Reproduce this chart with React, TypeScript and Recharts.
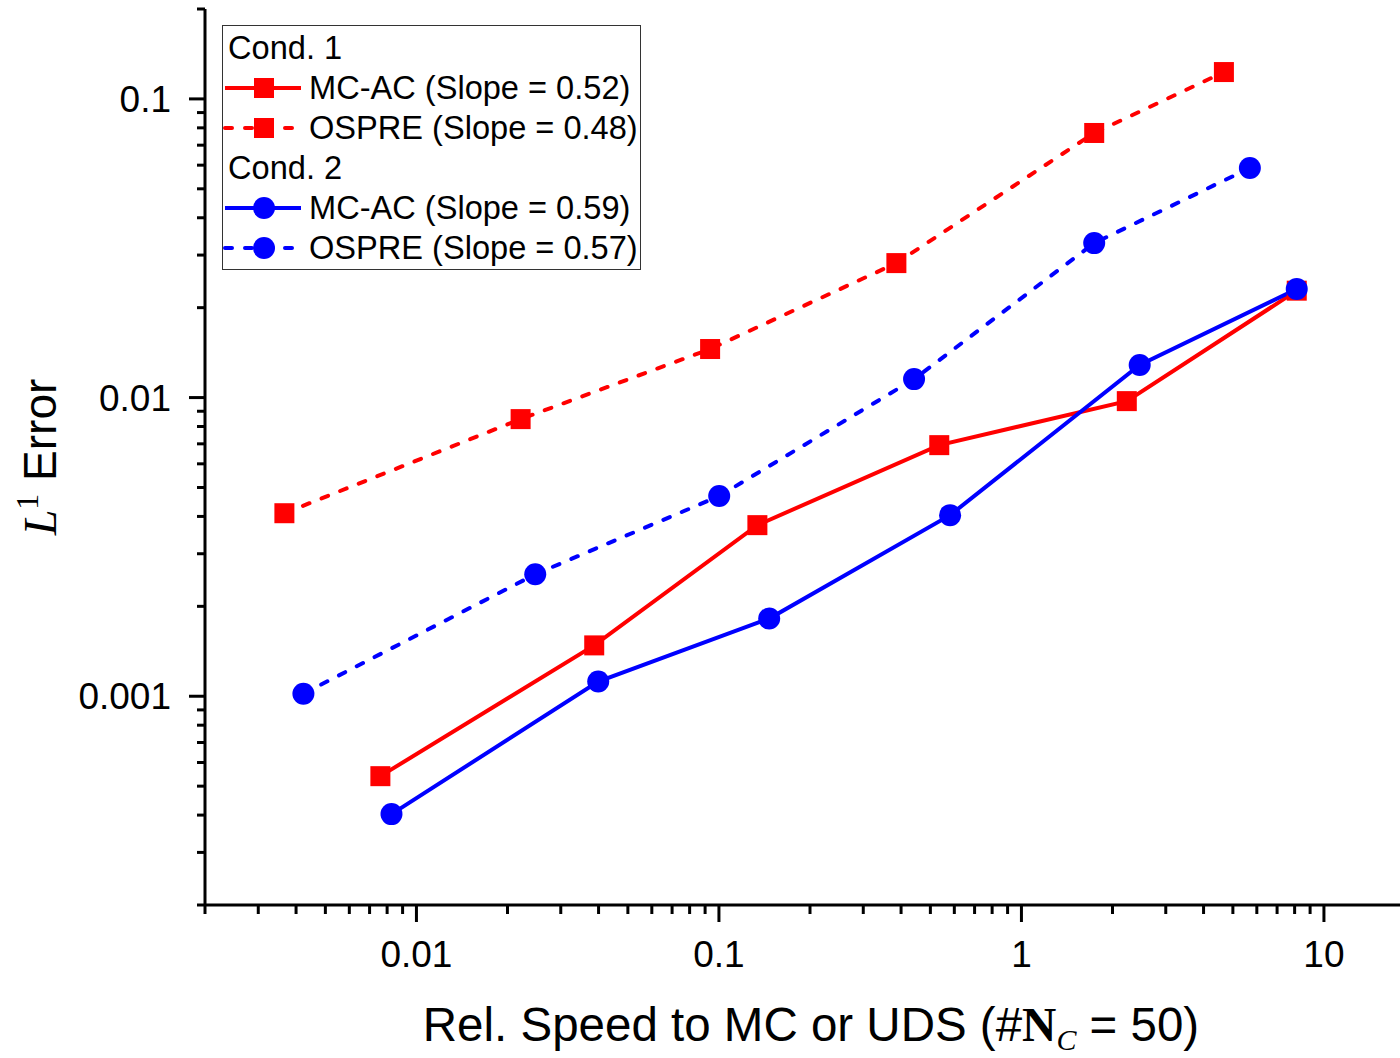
import React from 'react'
import { ComposedChart, Line, XAxis, YAxis, Legend } from 'recharts'

// Cond. 1
const mcAc1X = [0.0076, 0.0387, 0.134, 0.535, 2.23, 8.13]
const mcAc1Y = [0.00054, 0.00148, 0.00374, 0.00693, 0.00973, 0.0228]
const ospre1X = [0.00366, 0.0221, 0.0935, 0.386, 1.74, 4.67]
const ospre1Y = [0.0041, 0.00847, 0.01454, 0.0282, 0.0769, 0.123]

// Cond. 2
const mcAc2X = [0.00827, 0.0399, 0.1466, 0.581, 2.46, 8.13]
const mcAc2Y = [0.000403, 0.00112, 0.00182, 0.00404, 0.01285, 0.0231]
const ospre2X = [0.00423, 0.0247, 0.1002, 0.4416, 1.74, 5.69]
const ospre2Y = [0.00102, 0.00256, 0.00468, 0.01153, 0.0329, 0.0587]

const xMajor = [0.01, 0.1, 1, 10]
const yMajor = [0.001, 0.01, 0.1]
const xDecades = [0.001, 0.01, 0.1, 1]
const yDecades = [0.0001, 0.001, 0.01, 0.1]
const mantissas = [2, 3, 4, 5, 6, 7, 8, 9]

const minorOf = (decades: number[]) => decades.flatMap((d) => mantissas.map((m) => +(m * d).toPrecision(3)))
const xTicks = [...xMajor, ...minorOf(xDecades)].filter((v) => v >= 0.002 && v <= 20)
const yTicks = [...yMajor, ...minorOf(yDecades)].filter((v) => v >= 0.0002 && v <= 0.2)

const pts = (xs: number[], ys: number[]) => xs.map((x, i) => ({ x, y: ys[i] }))

const RED = '#ff0000'
const BLUE = '#0000ff'
const sans = 'Arial, "Liberation Sans", sans-serif'
const serif = '"Liberation Serif", "DejaVu Serif", serif'
const DASH = '7 13'

const isMajor = (v: number) => Math.abs(Math.log10(v) - Math.round(Math.log10(v))) < 1e-6

const XTick = ({ x, y, payload }: any) => {
  const major = isMajor(payload.value)
  return (
    <g>
      <line x1={x} x2={x} y1={y} y2={y + (major ? 17 : 9)} stroke="#000" strokeWidth={3} />
      {major && (
        <text x={x} y={y + 62} textAnchor="middle" fontFamily={sans} fontSize={37} fill="#000">
          {String(payload.value)}
        </text>
      )}
    </g>
  )
}

const YTick = ({ x, y, payload }: any) => {
  const major = isMajor(payload.value)
  return (
    <g>
      <line x1={x} x2={x - (major ? 16 : 8)} y1={y} y2={y} stroke="#000" strokeWidth={3} />
      {major && (
        <text x={x - 34} y={y + 13} textAnchor="end" fontFamily={sans} fontSize={37} fill="#000">
          {String(payload.value)}
        </text>
      )}
    </g>
  )
}

const square = (color: string) => (p: any) =>
  <rect key={`sq-${p.index}`} x={p.cx - 10} y={p.cy - 10} width={20} height={20} fill={color} />
const circle = (color: string) => (p: any) =>
  <circle key={`ci-${p.index}`} cx={p.cx} cy={p.cy} r={11} fill={color} />

const legendRows = [
  { title: 'Cond. 1' },
  { text: 'MC-AC (Slope = 0.52)', color: RED, dashed: false, shape: 'square' },
  { text: 'OSPRE (Slope = 0.48)', color: RED, dashed: true, shape: 'square' },
  { title: 'Cond. 2' },
  { text: 'MC-AC (Slope = 0.59)', color: BLUE, dashed: false, shape: 'circle' },
  { text: 'OSPRE (Slope = 0.57)', color: BLUE, dashed: true, shape: 'circle' },
]

const LegendBox = () => (
  <div
    style={{
      border: '1.5px solid #333',
      background: '#fff',
      padding: '2px 2px 1px 0',
      fontFamily: sans,
      fontSize: 32.6,
      lineHeight: '40px',
      color: '#000',
      whiteSpace: 'nowrap',
    }}
  >
    {legendRows.map((r, i) =>
      r.title ? (
        <div key={i} style={{ height: 40, paddingLeft: 5 }}>{r.title}</div>
      ) : (
        <div key={i} style={{ height: 40, display: 'flex', alignItems: 'center' }}>
          <svg width={86} height={40} style={{ flex: 'none' }}>
            <line x1={2} x2={78} y1={20} y2={20} stroke={r.color} strokeWidth={4}
              strokeDasharray={r.dashed ? DASH : undefined} strokeLinecap={r.dashed ? 'round' : 'butt'} />
            {r.shape === 'square'
              ? <rect x={31} y={10} width={20} height={20} fill={r.color} />
              : <circle cx={41} cy={20} r={11} fill={r.color} />}
          </svg>
          <span>{r.text}</span>
        </div>
      )
    )}
  </div>
)

const XLabel = () => (
  <text x={811} y={1041} textAnchor="middle" fontFamily={sans} fontSize={47.5} fill="#000">
    Rel. Speed to MC or UDS (#
    <tspan fontFamily={serif} fontWeight="bold">N</tspan>
    <tspan fontFamily={serif} fontStyle="italic" fontSize={30} dy={9}>C</tspan>
    <tspan dy={-9}> = 50)</tspan>
  </text>
)

const YLabel = () => (
  <text transform="translate(56,457) rotate(-90)" textAnchor="middle" fontFamily={sans} fontSize={46} fill="#000">
    <tspan fontFamily={serif} fontStyle="italic">L</tspan>
    <tspan fontFamily={serif} fontSize={32} dy={-18}>1</tspan>
    <tspan dy={18}> Error</tspan>
  </text>
)

export default function App() {
  return (
    <div style={{ position: 'absolute', left: 0, top: 0, width: 1400, height: 1058, overflow: 'hidden', background: '#fff' }}>
      <ComposedChart width={1420} height={1058} margin={{ top: 9, right: 5, bottom: 0, left: 0 }}>
        <XAxis
          dataKey="x" type="number" scale="log" domain={[0.002, 20]} allowDataOverflow
          ticks={xTicks} interval={0} tickSize={0} tickMargin={0} tickLine={false} tick={<XTick />}
          axisLine={{ stroke: '#000', strokeWidth: 3 }} height={153}
          label={<XLabel />}
        />
        <XAxis
          xAxisId="top" orientation="top" dataKey="x" type="number" scale="log" domain={[0.002, 20]}
          allowDataOverflow tick={false} tickLine={false} height={0} axisLine={{ stroke: '#000', strokeWidth: 3.5 }}
        />
        <YAxis
          dataKey="y" type="number" scale="log" domain={[0.0002, 0.2]} allowDataOverflow
          ticks={yTicks} interval={0} tickSize={0} tickMargin={0} tickLine={false} tick={<YTick />}
          axisLine={{ stroke: '#000', strokeWidth: 3 }} width={205}
          label={<YLabel />}
        />
        <Legend
          content={<LegendBox />} layout="vertical" align="center" verticalAlign="middle"
          wrapperStyle={{ left: 222, top: 25, width: 'auto' }}
        />
        <Line data={pts(ospre1X, ospre1Y)} dataKey="y" type="linear" stroke={RED} strokeWidth={4}
          strokeDasharray={DASH} strokeLinecap="round" dot={square(RED)} isAnimationActive={false} legendType="none" />
        <Line data={pts(mcAc1X, mcAc1Y)} dataKey="y" type="linear" stroke={RED} strokeWidth={4}
          dot={square(RED)} isAnimationActive={false} legendType="none" />
        <Line data={pts(ospre2X, ospre2Y)} dataKey="y" type="linear" stroke={BLUE} strokeWidth={4}
          strokeDasharray={DASH} strokeLinecap="round" dot={circle(BLUE)} isAnimationActive={false} legendType="none" />
        <Line data={pts(mcAc2X, mcAc2Y)} dataKey="y" type="linear" stroke={BLUE} strokeWidth={4}
          dot={circle(BLUE)} isAnimationActive={false} legendType="none" />
      </ComposedChart>
    </div>
  )
}
